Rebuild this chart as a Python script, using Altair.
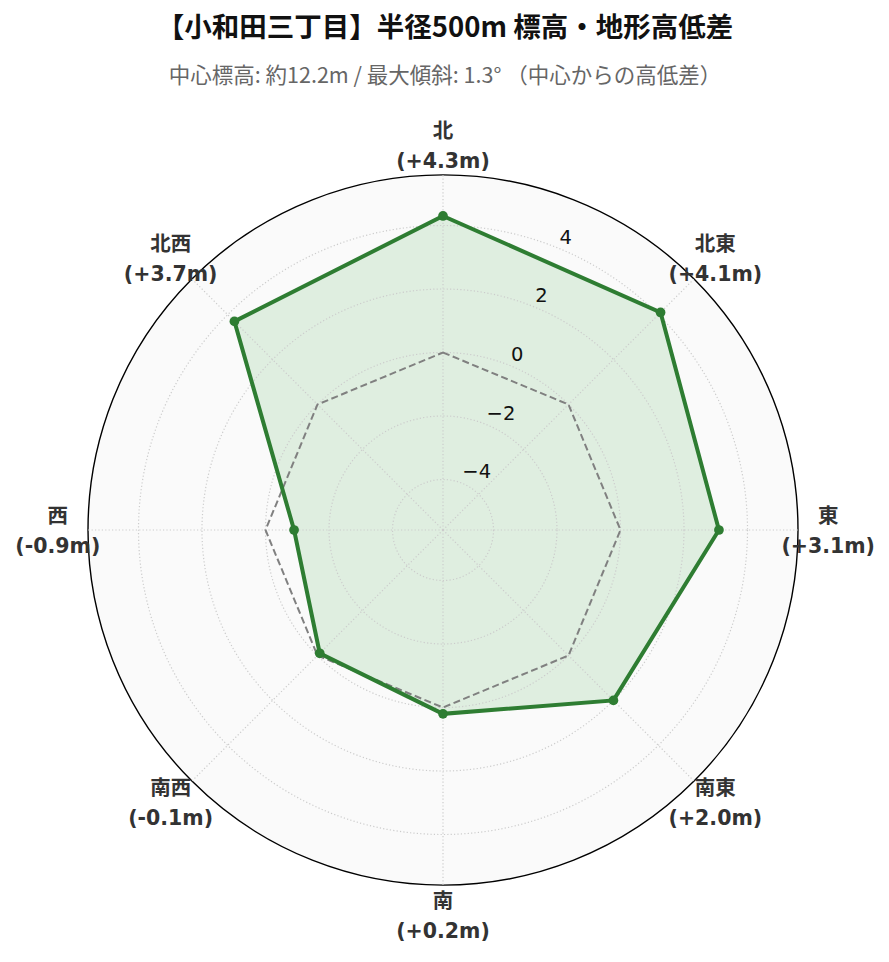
import math
import altair as alt
import pandas as pd

# ---- data ----
directions = ["北", "北東", "東", "南東", "南", "南西", "西", "北西"]
diffs = [4.3, 4.1, 3.1, 2.0, 0.2, -0.1, -0.9, 3.7]
angles_deg = [0, 45, 90, 135, 180, 225, 270, 315]
rticks = [-4, -2, 0, 2, 4]
title_text = "【小和田三丁目】半径500m 標高・地形高低差"
subtitle_text = "中心標高: 約12.2m / 最大傾斜: 1.3° （中心からの高低差）"

# ---- layout / style ----
RLIM = round(max(abs(v) for v in diffs) * 1.3, 2)   # radial axis limit (±)
SPAN = 2 * RLIM                                      # radial extent in data units
LABEL_R = SPAN * 1.085                               # where direction labels sit
W = 710
JP = "Noto Sans CJK JP"
MIX = "DejaVu Sans, Noto Sans CJK JP"
GREEN = "#2e7d32"
FILL_GREEN = "#4caf50"

df = pd.DataFrame({
    "dir": directions,
    "diff": diffs,
    "ang": angles_deg,
    "idx": list(range(len(directions))),
})
df["label"] = [f"{d}\n({v:+.1f}m)" for d, v in zip(directions, diffs)]

ticks_df = pd.DataFrame({
    "t": [float(t) for t in rticks],
    "lab": [str(t).replace("-", "\u2212") for t in rticks],
})
ticks_df["rr"] = ticks_df["t"] + RLIM

xs = alt.Scale(domain=[-SPAN, SPAN], nice=False, zero=False)
ys = alt.Scale(domain=[-SPAN, SPAN], nice=False, zero=False)
# circle symbol: size = diameter^2 -> pow(2) scale maps radius (data) to size
ss = alt.Scale(type="pow", exponent=2, domain=[0, SPAN], range=[0, W * W], zero=True, nice=False)

X = alt.X("x:Q", scale=xs, axis=None)
Y = alt.Y("y:Q", scale=ys, axis=None)
CX = alt.X("cx:Q", scale=xs, axis=None)
CY = alt.Y("cy:Q", scale=ys, axis=None)

rad = "datum.ang * PI / 180"

base = alt.Chart(df).transform_calculate(
    r=f"datum.diff + {RLIM}",
).transform_calculate(
    x=f"datum.r * sin({rad})",
    y=f"datum.r * cos({rad})",
)

# background disc
outer = alt.Chart(pd.DataFrame({"rr": [SPAN], "cx": [0.0], "cy": [0.0]})).mark_point(
    shape="circle", filled=False, fill="#fafafa", fillOpacity=1, stroke="black",
    strokeWidth=1.4, opacity=1
).encode(x=CX, y=CY, size=alt.Size("rr:Q", scale=ss, legend=None))

# polygon fill
poly_fill = base.mark_line(
    interpolate="linear-closed", fill=FILL_GREEN, fillOpacity=0.15, strokeOpacity=0
).encode(x=X, y=Y, order="idx:Q")

# grid circles
grid = alt.Chart(ticks_df).transform_calculate(cx="0", cy="0").mark_point(
    shape="circle", filled=False, fillOpacity=0, stroke="#cccccc", strokeWidth=1.2,
    strokeDash=[1.2, 2.2], opacity=1
).encode(x=CX, y=CY, size=alt.Size("rr:Q", scale=ss, legend=None))

# spokes
spokes = alt.Chart(df).transform_calculate(
    x0="0", y0="0",
    xe=f"{SPAN} * sin({rad})",
    ye=f"{SPAN} * cos({rad})",
).mark_rule(stroke="#cccccc", strokeWidth=1.2, strokeDash=[1.2, 2.2]).encode(
    x=alt.X("x0:Q", scale=xs, axis=None),
    y=alt.Y("y0:Q", scale=ys, axis=None),
    x2="xe:Q", y2="ye:Q",
)

# zero reference octagon
zero = alt.Chart(df).transform_calculate(
    x=f"{RLIM} * sin({rad})",
    y=f"{RLIM} * cos({rad})",
).mark_line(
    interpolate="linear-closed", stroke="#808080", strokeWidth=2, strokeDash=[7, 3.5]
).encode(x=X, y=Y, order="idx:Q")

# data line + points
line = base.mark_line(
    interpolate="linear-closed", stroke=GREEN, strokeWidth=4
).encode(x=X, y=Y, order="idx:Q")
pts = base.mark_point(filled=True, color=GREEN, size=95, opacity=1).encode(x=X, y=Y)

# radial tick labels
tick_lab = alt.Chart(ticks_df).transform_calculate(
    x=f"(datum.t + {RLIM}) * sin(22.5 * PI / 180)",
    y=f"(datum.t + {RLIM}) * cos(22.5 * PI / 180)",
).mark_text(
    align="left", baseline="bottom", font="DejaVu Sans", fontSize=19.5, color="#111111", dy=-1
).encode(x=X, y=Y, text="lab:N")

# direction labels
dir_lab = alt.Chart(df).transform_calculate(
    x=f"{LABEL_R} * sin({rad})",
    y=f"{LABEL_R} * cos({rad})",
).mark_text(
    align="center", baseline="middle", font=MIX, fontWeight="bold", fontSize=20.5,
    color="#333333", lineBreak="\n", lineHeight=30, dy=-13
).encode(x=X, y=Y, text="label:N")

# title + subtitle (text marks placed above the plot)
titles = pd.DataFrame({"txt": [title_text]})
title_mark = alt.Chart(titles).mark_text(
    font=JP, fontWeight="bold", fontSize=27.5, color="#111111",
    align="center", baseline="middle"
).encode(x=alt.value(W / 2 + 2), y=alt.value(-146), text="txt:N")
subtitles = pd.DataFrame({"txt": [subtitle_text]})
subtitle_mark = alt.Chart(subtitles).mark_text(
    font=JP, fontSize=21.5, color="#666666", align="center", baseline="middle"
).encode(x=alt.value(W / 2 + 2), y=alt.value(-98), text="txt:N")

chart = alt.layer(
    outer, poly_fill, grid, spokes, zero, line, pts, tick_lab, dir_lab,
    title_mark, subtitle_mark
).properties(
    width=W, height=W,
    view=alt.ViewBackground(stroke="transparent", strokeWidth=0, fill="transparent"),
    autosize=alt.AutoSizeParams(type="none"),
    padding={"left": 80, "top": 167, "right": 83, "bottom": 70},
).configure_view(stroke="transparent", strokeWidth=0).configure(background="white")

chart.save("out.html", embed_options={"renderer": "svg", "actions": False})
